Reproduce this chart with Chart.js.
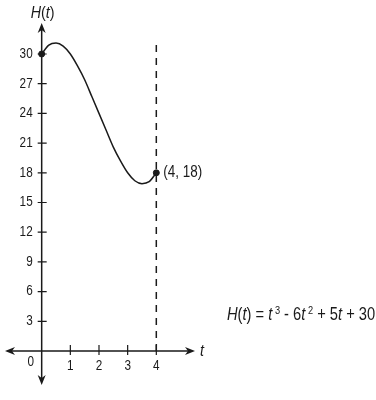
<!DOCTYPE html>
<html>
<head>
<meta charset="utf-8">
<script src="https://cdn.jsdelivr.net/npm/chart.js@4"></script>
<style>
  body { margin: 0; background: #fff; }
  #wrap { width: 376px; height: 400px; position: relative; }
</style>
</head>
<body>
<div id="wrap"><canvas id="myChart"></canvas></div>
<script>
// values
const tValues = [0, 0.25, 0.5, 0.75, 1, 1.25, 1.5, 1.75, 2, 2.25, 2.5, 2.75, 3, 3.25, 3.5, 3.75, 4];
const hValues = [30, 30.9, 31.1, 30.8, 30, 28.8, 27.4, 25.7, 24, 22.3, 20.6, 19.2, 18, 17.2, 16.9, 17.1, 18];
const markedT = [0, 4];
const markedH = [30, 18];
const xTicks = [1, 2, 3, 4];
const yTicks = [3, 6, 9, 12, 15, 18, 21, 24, 27, 30];
const dashT = [4, 4];
const dashH = [0, 31.1];

const INK = '#1a1a1a';
const FONT = "'Liberation Sans', Arial, sans-serif";
const NARROW = 0.84; // squeeze text horizontally, the original uses a condensed face

const pts = (xs, ys) => xs.map((x, i) => ({x: x, y: ys[i]}));

function arrow(c, x, y, dx, dy) {
  // dart-shaped arrowhead, tip at (x, y)
  const L = 10, W = 4, B = 7;
  const px = -dy, py = dx;
  c.beginPath();
  c.moveTo(x, y);
  c.lineTo(x - dx * L + px * W, y - dy * L + py * W);
  c.lineTo(x - dx * B, y - dy * B);
  c.lineTo(x - dx * L - px * W, y - dy * L - py * W);
  c.closePath();
  c.fill();
}

function txt(c, s, x, y, size) {
  c.save();
  c.font = size + 'px ' + FONT;
  c.translate(x, y);
  c.scale(NARROW, 1);
  c.fillText(s, 0, 0);
  c.restore();
}

function runs(c, parts, x, y, size) {
  c.save();
  c.translate(x, y);
  c.scale(NARROW, 1);
  c.textAlign = 'left';
  let cx = 0;
  parts.forEach(p => {
    const s = p.sup ? Math.round(size * 0.65) : size;
    c.font = (p.i ? 'italic ' : '') + s + 'px ' + FONT;
    c.fillText(p.t, cx, p.sup ? -size * 0.38 : 0);
    cx += c.measureText(p.t).width;
  });
  c.restore();
}

const axesPlugin = {
  id: 'axes',
  beforeDatasetsDraw(chart) {
    const c = chart.ctx;
    const xs = chart.scales.x, ys = chart.scales.y, a = chart.chartArea;
    const ox = xs.getPixelForValue(0), oy = ys.getPixelForValue(0);
    c.save();
    c.strokeStyle = INK;
    c.fillStyle = INK;
    c.lineWidth = 1.5;
    c.beginPath();
    c.moveTo(a.left + 4, oy); c.lineTo(a.right - 4, oy);
    c.moveTo(ox, a.top + 4); c.lineTo(ox, a.bottom - 4);
    c.stroke();
    arrow(c, a.left, oy, -1, 0);
    arrow(c, a.right, oy, 1, 0);
    arrow(c, ox, a.top, 0, -1);
    arrow(c, ox, a.bottom, 0, 1);

    c.lineWidth = 1.2;
    c.beginPath();
    xTicks.forEach(v => {
      const px = xs.getPixelForValue(v);
      c.moveTo(px, oy - 6); c.lineTo(px, oy + 4);
    });
    yTicks.forEach(v => {
      const py = ys.getPixelForValue(v);
      c.moveTo(ox - 4, py); c.lineTo(ox + 5, py);
    });
    c.stroke();

    c.textBaseline = 'middle';
    c.textAlign = 'center';
    xTicks.forEach(v => txt(c, String(v), xs.getPixelForValue(v), oy + 15, 14));
    txt(c, '0', ox - 11, oy + 11, 14);
    c.textAlign = 'right';
    yTicks.forEach(v => txt(c, String(v), ox - 9, ys.getPixelForValue(v), 14));

    // axis titles
    c.textBaseline = 'alphabetic';
    runs(c, [{t: 'H', i: true}, {t: '('}, {t: 't', i: true}, {t: ')'}], ox - 11, a.top - 5, 17);
    runs(c, [{t: 't', i: true}], a.right + 5, oy + 5, 17);

    // point label and equation
    c.textAlign = 'left';
    c.textBaseline = 'middle';
    txt(c, '(4, 18)', xs.getPixelForValue(4) + 7, ys.getPixelForValue(18), 16);
    c.textBaseline = 'alphabetic';
    runs(c, [
      {t: 'H', i: true}, {t: '('}, {t: 't', i: true}, {t: ') = '},
      {t: 't', i: true}, {t: ' 3', sup: true}, {t: ' - 6'},
      {t: 't', i: true}, {t: ' 2', sup: true}, {t: ' + 5'},
      {t: 't', i: true}, {t: ' + 30'}
    ], a.right + 32, ys.getPixelForValue(3.1), 17.5);
    c.restore();
  }
};

const ctx = document.getElementById('myChart').getContext('2d');
const myChart = new Chart(ctx, {
  type: 'scatter',
  data: {
    datasets: [
      {
        label: 'H(t)',
        data: pts(tValues, hValues),
        showLine: true,
        cubicInterpolationMode: 'monotone',
        borderColor: INK,
        borderWidth: 1.5,
        pointRadius: 0,
        fill: false
      },
      {
        label: 'x = 4',
        data: pts(dashT, dashH),
        showLine: true,
        borderColor: INK,
        borderWidth: 1.5,
        borderDash: [7, 6],
        pointRadius: 0
      },
      {
        label: 'points',
        data: pts(markedT, markedH),
        showLine: false,
        pointRadius: 3,
        pointBackgroundColor: INK,
        pointBorderColor: INK
      }
    ]
  },
  options: {
    responsive: true,
    maintainAspectRatio: false,
    animation: false,
    layout: { padding: { left: 2, right: 181, top: 23, bottom: 15 } },
    scales: {
      x: { type: 'linear', min: -1.28, max: 5.35, display: false },
      y: { type: 'linear', min: -3.43, max: 33.13, display: false }
    },
    plugins: {
      legend: { display: false },
      tooltip: { enabled: false }
    }
  },
  plugins: [axesPlugin]
});
</script>
</body>
</html>
